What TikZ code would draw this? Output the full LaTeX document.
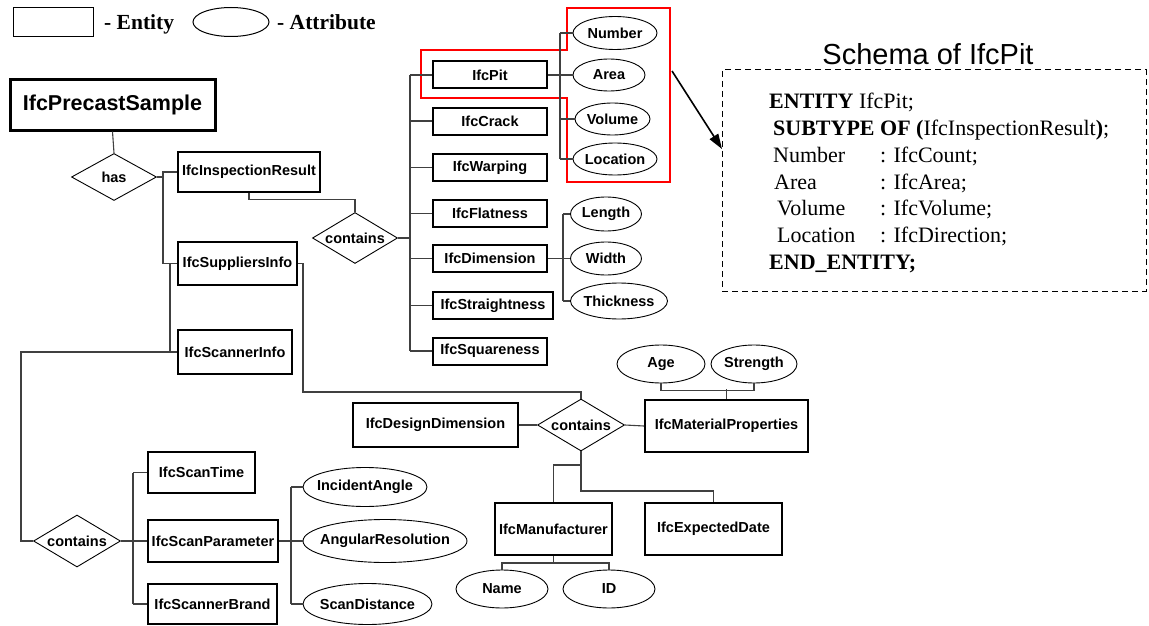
\documentclass[tikz,border=0pt]{standalone}
\usepackage{fontspec}
\setmainfont{Liberation Serif}
\setsansfont{Liberation Sans}
\usetikzlibrary{arrows.meta,shapes.geometric}

\newcommand{\lbl}[1]{\makebox[0pt]{#1}}

\begin{document}
\begin{tikzpicture}[x=1pt,y=-1pt]
	\tikzstyle{entity}=[draw,rectangle,line width=2pt,inner sep=0pt,font=\sffamily\bfseries\fontsize{14.5}{17}\selectfont]
	\tikzstyle{strongentity}=[entity,line width=2.6pt]
	\tikzstyle{relation}=[draw,diamond,line width=0.9pt,inner sep=0pt,font=\sffamily\bfseries\fontsize{14.5}{17}\selectfont]
	\tikzstyle{attribute}=[draw,ellipse,line width=0.9pt,inner sep=0pt,font=\sffamily\bfseries\fontsize{14.5}{17}\selectfont]
	\tikzstyle{link}=[draw=black!75,line width=1.1pt]
	\tikzstyle{highlight}=[draw=red,line width=2.6pt]
	\tikzstyle{pointer}=[line width=1.6pt,arrows={-Triangle[length=15pt,width=10pt]}]
	\tikzstyle{schemaline}=[anchor=base west,inner sep=0pt,font=\fontsize{22}{24}\selectfont]
	\tikzstyle{legendtext}=[anchor=base west,inner sep=0pt,font=\bfseries\fontsize{21.5}{24}\selectfont]

	\useasboundingbox (0,0) rectangle (1149,626);

	% Legend
	\node[draw,line width=1pt,minimum width=80pt,minimum height=29pt] (legentity) at (53,22) {};
	\node[legendtext] (legentitytxt) at (104,29.5) {- Entity};
	\node[draw,ellipse,line width=1pt,minimum width=76pt,minimum height=29pt] (legattr) at (231,22) {};
	\node[legendtext] (legattrtxt) at (277,29.5) {- Attribute};

	% Sample and its parts
	\node[entity,line width=3pt,minimum width=205pt,minimum height=50pt,font=\sffamily\bfseries\fontsize{21.5}{24}\selectfont] (precast) at (112.5,105) {IfcPrecastSample};
	\node[relation,minimum width=85pt,minimum height=47pt] (has) at (114,177) {\lbl{has}};
	\node[strongentity,minimum width=142pt,minimum height=40pt] (insp) at (249,172) {IfcInspectionResult};
	\node[strongentity,minimum width=119pt,minimum height=43pt] (supp) at (237.5,263.5) {IfcSuppliersInfo};
	\node[strongentity,minimum width=114pt,minimum height=44pt] (scanner) at (235,352) {IfcScannerInfo};

	% Inspection results
	\node[relation,minimum width=85pt,minimum height=51pt] (contains1) at (355,238) {\lbl{contains}};
	\node[entity,minimum width=114pt,minimum height=27pt] (pit) at (490,75) {IfcPit};
	\node[entity,minimum width=114pt,minimum height=27pt] (crack) at (490,121) {IfcCrack};
	\node[entity,minimum width=114pt,minimum height=27pt] (warping) at (490,167.5) {IfcWarping};
	\node[entity,minimum width=114pt,minimum height=27pt] (flatness) at (490,213.5) {IfcFlatness};
	\node[entity,minimum width=114pt,minimum height=27pt] (dimension) at (490,258.5) {IfcDimension};
	\node[entity,minimum width=120pt,minimum height=27pt] (straightness) at (493,305.5) {IfcStraightness};
	\node[entity,minimum width=114pt,minimum height=27pt] (squareness) at (490,351) {IfcSquareness};

	\node[attribute,minimum width=84pt,minimum height=33pt] (number) at (615,33) {\lbl{Number}};
	\node[attribute,minimum width=72pt,minimum height=32pt] (area) at (609,75) {\lbl{Area}};
	\node[attribute,minimum width=75pt,minimum height=32pt] (volume) at (612.5,119) {\lbl{Volume}};
	\node[attribute,minimum width=84pt,minimum height=32pt] (location) at (615,159) {\lbl{Location}};

	\node[attribute,minimum width=71pt,minimum height=34pt] (dimlength) at (606,214) {\lbl{Length}};
	\node[attribute,minimum width=71pt,minimum height=33pt] (dimwidth) at (606,258.5) {\lbl{Width}};
	\node[attribute,minimum width=97pt,minimum height=36pt] (dimthick) at (619,301) {\lbl{Thickness}};

	% Suppliers info
	\node[relation,minimum width=87pt,minimum height=52pt] (contains2) at (581,425) {\lbl{contains}};
	\node[entity,minimum width=165pt,minimum height=44pt] (design) at (435.5,425) {IfcDesignDimension};
	\node[entity,minimum width=163pt,minimum height=52pt] (matprop) at (726.5,426) {IfcMaterialProperties};
	\node[attribute,minimum width=88pt,minimum height=38pt] (age) at (661,364) {\lbl{Age}};
	\node[attribute,minimum width=86pt,minimum height=38pt] (strength) at (754,364) {\lbl{Strength}};
	\node[entity,minimum width=117pt,minimum height=52pt] (manuf) at (553.5,529) {IfcManufacturer};
	\node[entity,minimum width=137pt,minimum height=52pt] (expdate) at (713.5,529) {IfcExpectedDate};
	\node[attribute,minimum width=92pt,minimum height=38pt] (name) at (502,589) {\lbl{Name}};
	\node[attribute,minimum width=92pt,minimum height=38pt] (id) at (609,589) {\lbl{ID}};

	% Scanner info
	\node[relation,minimum width=87pt,minimum height=52pt] (contains3) at (77,541) {\lbl{contains}};
	\node[strongentity,minimum width=107pt,minimum height=41pt] (scantime) at (201.5,472.5) {IfcScanTime};
	\node[strongentity,minimum width=130pt,minimum height=42pt] (scanparam) at (213,541) {IfcScanParameter};
	\node[strongentity,minimum width=129pt,minimum height=40pt] (brand) at (212.5,604) {IfcScannerBrand};
	\node[attribute,minimum width=124pt,minimum height=39pt] (incident) at (365,487) {\lbl{IncidentAngle}};
	\node[attribute,minimum width=164pt,minimum height=43pt] (angular) at (385,541) {\lbl{AngularResolution}};
	\node[attribute,minimum width=129pt,minimum height=41pt] (scandist) at (367.5,604) {\lbl{ScanDistance}};

	% Schema of IfcPit
	\node[inner sep=0pt,font=\sffamily\fontsize{29}{32}\selectfont] (schematitle) at (928,54) {Schema of IfcPit};
	\node[draw,line width=1pt,dash pattern=on 6pt off 4pt,minimum width=424pt,minimum height=221pt,inner sep=0pt] (schema) at (934,180.5) {};
	\node[schemaline] (s1) at (769,109) {\textbf{ENTITY} IfcPit;};
	\node[schemaline] (s2) at (773,135.5) {\textbf{SUBTYPE OF (}IfcInspectionResult\textbf{)};};
	\node[schemaline] (s3) at (773,162) {Number};
	\node[schemaline] (s3t) at (880,162) {: IfcCount;};
	\node[schemaline] (s4) at (774,189) {Area};
	\node[schemaline] (s4t) at (880,189) {: IfcArea;};
	\node[schemaline] (s5) at (777,215.5) {Volume};
	\node[schemaline] (s5t) at (880,215.5) {: IfcVolume;};
	\node[schemaline] (s6) at (777,242) {Location};
	\node[schemaline] (s6t) at (880,242) {: IfcDirection;};
	\node[schemaline] (s7) at (769,269) {\textbf{END\_ENTITY;}};

	% red frame round IfcPit and its attributes
	\draw[highlight] (567,8) -- (670,8) -- (670,182) -- (567,182) -- (567,98) -- (421,98) -- (421,50) -- (567,50) -- cycle;
	\coordinate (pittail) at (672,71);
	\coordinate (pithead) at (722,149);
	\draw[pointer] (pittail) -- (pithead);

	% connectors of the sample
	\draw[link] (precast.south) -- (has.north);
	\coordinate (hasbus) at (163,0);
	\coordinate (scanbus) at (170,0);
	\coordinate (leftbus) at (21,0);
	\draw[link] (has.east) -- (has.east -| hasbus);
	\draw[link] (insp.west) -| (hasbus |- supp.west) -- (supp.west);
	\draw[link] (scanbus |- supp.west) -- (scanbus |- scanner.west);
	\draw[link] (scanner.west) -- (leftbus |- scanner.west) |- (contains3.west);

	% connectors of the inspection results
	\draw[link] (insp.south) -- ++(0,6) -| (contains1.north);
	\coordinate (defectbus) at (410,0);
	\draw[link] (contains1.east) -- (contains1.east -| defectbus);
	\draw[link] (defectbus |- pit.west) -- (defectbus |- squareness.west);
	\foreach \n in {pit,crack,warping,flatness,dimension,straightness,squareness}
		\draw[link] (defectbus |- \n.west) -- (\n.west);
	\coordinate (pitbus) at (560,0);
	\draw[link] (pit.east) -- (pit.east -| pitbus);
	\draw[link] (pitbus |- number.west) -- (pitbus |- location.west);
	\foreach \n in {number,area,volume,location}
		\draw[link] (pitbus |- \n.west) -- (\n.west);
	\coordinate (dimbus) at (563,0);
	\draw[link] (dimension.east) -- (dimension.east -| dimbus);
	\draw[link] (dimbus |- dimlength.west) -- (dimbus |- dimthick.west);
	\foreach \n in {dimlength,dimwidth,dimthick}
		\draw[link] (dimbus |- \n.west) -- (\n.west);

	% connectors of the suppliers info
	\coordinate (suppdrop) at (303,392);
	\draw[link] (supp.east) -| (suppdrop) -| (contains2.north);
	\draw[link] (design.east) -- (contains2.west);
	\draw[link] (contains2.east) -- (matprop.west);
	\draw[link] (age.south) -- ++(0,7) -| (strength.south);
	\draw[link] (matprop.north) -- ++(0,-10);
	\coordinate (manufjoin) at (581,465);
	\coordinate (datejoin) at (581,491);
	\draw[link] (contains2.south) -- (datejoin) -| (expdate.north);
	\draw[link] (manufjoin) -| (manuf.north);
	\coordinate (manuffoot) at (553.5,563);
	\draw[link] (manuf.south) -- (manuffoot);
	\draw[link] (name.north) |- (manuffoot) -| (id.north);

	% connectors of the scanner info
	\coordinate (scanparbus) at (133,0);
	\draw[link] (contains3.east) -- (contains3.east -| scanparbus);
	\draw[link] (scanparbus |- scantime.west) -- (scanparbus |- brand.west);
	\foreach \n in {scantime,scanparam,brand}
		\draw[link] (scanparbus |- \n.west) -- (\n.west);
	\coordinate (parambus) at (291,0);
	\draw[link] (scanparam.east) -- (scanparam.east -| parambus);
	\draw[link] (parambus |- incident.west) -- (parambus |- scandist.west);
	\foreach \n in {incident,angular,scandist}
		\draw[link] (parambus |- \n.west) -- (\n.west);
\end{tikzpicture}
\end{document}
